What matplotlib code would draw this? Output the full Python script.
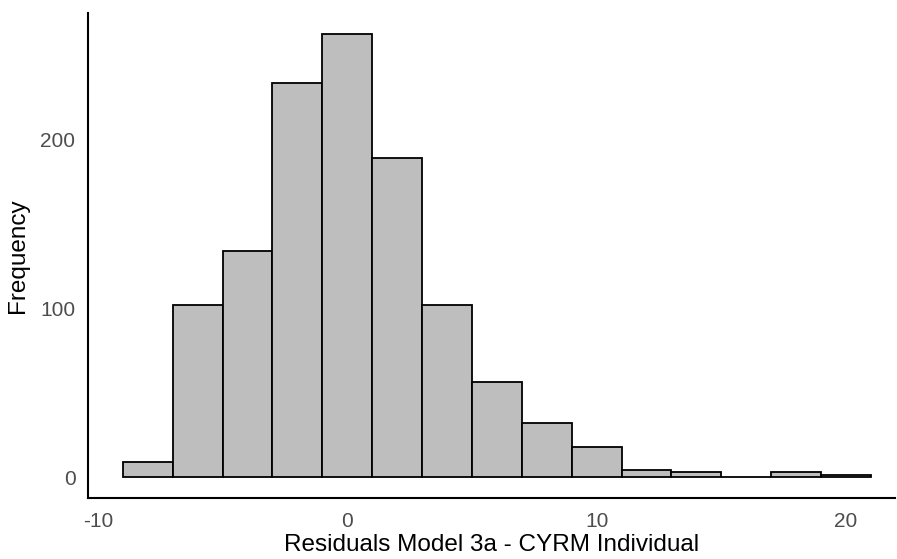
import matplotlib.pyplot as plt
import numpy as np

plt.rcParams['font.family'] = ['Liberation Sans', 'DejaVu Sans']
plt.rcParams['axes.unicode_minus'] = False

# histogram of residuals, bin width 2
bin_left = [-9, -7, -5, -3, -1, 1, 3, 5, 7, 9, 11, 13, 15, 17, 19]
counts = [9, 102, 134, 233, 262, 189, 102, 56, 32, 18, 4, 3, 0, 3, 1]
xticks = [-10, 0, 10, 20]
yticks = [0, 100, 200]

fig = plt.figure(figsize=(8.97, 5.59), dpi=100)
ax = fig.add_axes([0.0981, 0.1091, 0.8997, 0.8676])

ax.bar(bin_left, counts, width=2, align='edge', color='#BEBEBE',
       edgecolor='black', linewidth=1.3)

ax.set_xlim(-10.4, 21.97)
ax.set_ylim(-12.4, 274.6)
ax.set_xticks(xticks)
ax.set_yticks(yticks)
ax.tick_params(length=0, labelsize=15, labelcolor='#4D4D4D')
ax.tick_params(axis='x', pad=10)
ax.tick_params(axis='y', pad=9)

for s in ['top', 'right']:
    ax.spines[s].set_visible(False)
for s in ['left', 'bottom']:
    ax.spines[s].set_linewidth(1.5)

ax.set_xlabel('Residuals Model 3a - CYRM Individual', fontsize=17.5, labelpad=2)
ax.set_ylabel('Frequency', fontsize=17.5, labelpad=8)

fig.savefig('out.png', dpi=100)
